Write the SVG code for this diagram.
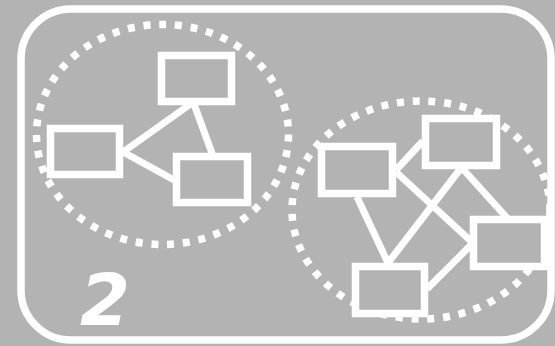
<svg xmlns="http://www.w3.org/2000/svg" width="555" height="346" viewBox="0 0 555 346">
  <style>
    .frame { fill: none; stroke: #ffffff; stroke-width: 7.5; }
    .cluster { fill: none; stroke: #ffffff; stroke-width: 7.5; stroke-dasharray: 7 8.8; }
    .node rect { fill: #b3b3b3; stroke: #ffffff; stroke-width: 7.5; }
    .edge { stroke: #ffffff; stroke-width: 7; fill: none; }
    .label { font-family: "DejaVu Sans", "Liberation Sans", sans-serif; font-weight: bold; font-style: italic; font-size: 72px; fill: #ffffff; }
  </style>
  <rect x="0" y="0" width="555" height="346" fill="#b3b3b3"/>
  <rect class="frame" x="21" y="9" width="530" height="331" rx="50" ry="50"/>
  <g id="clusters">
    <ellipse id="cluster-left" class="cluster" cx="162.5" cy="134.5" rx="126" ry="110"/>
    <ellipse id="cluster-right" class="cluster" cx="421" cy="210" rx="129" ry="109"/>
  </g>
  <g id="connectors">
    <line class="edge" x1="192" y1="103" x2="123" y2="152"/>
    <line class="edge" x1="194" y1="104" x2="213" y2="156"/>
    <line class="edge" x1="123" y1="152" x2="176" y2="181"/>
    <line class="edge" x1="396" y1="170" x2="423" y2="141"/>
    <line class="edge" x1="396" y1="172" x2="473" y2="243"/>
    <line class="edge" x1="357" y1="197" x2="388" y2="263"/>
    <line class="edge" x1="461" y1="168" x2="388" y2="263"/>
    <line class="edge" x1="462" y1="168" x2="508" y2="219"/>
    <line class="edge" x1="427" y1="289" x2="473" y2="243"/>
  </g>
  <g id="node-l1" class="node"><rect x="161.5" y="55.5" width="70" height="46"/></g>
  <g id="node-l2" class="node"><rect x="50.5" y="128.5" width="69" height="46"/></g>
  <g id="node-l3" class="node"><rect x="176.5" y="156.5" width="71" height="46"/></g>
  <g id="node-r1" class="node"><rect x="321.5" y="146.5" width="71" height="47"/></g>
  <g id="node-r2" class="node"><rect x="425.5" y="118.5" width="71" height="47"/></g>
  <g id="node-r3" class="node"><rect x="473.5" y="219.5" width="71" height="47"/></g>
  <g id="node-r4" class="node"><rect x="355.5" y="266.5" width="69" height="47"/></g>
  <text class="label" x="80" y="325">2</text>
</svg>
